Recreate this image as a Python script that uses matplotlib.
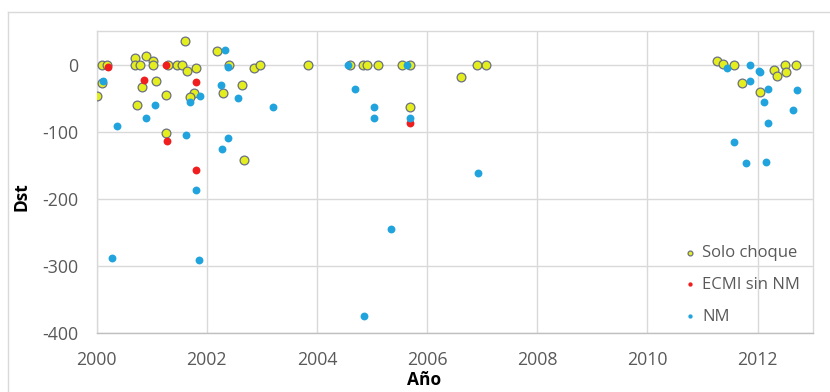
import numpy as np
import matplotlib
matplotlib.use("Agg")
import matplotlib.pyplot as plt
from matplotlib.lines import Line2D

# Solo choque (yellow)
choque_x = [2000.01, 2000.09, 2000.18, 2000.10, 2000.70, 2000.70, 2000.78, 2000.89,
            2001.02, 2001.02, 2000.83, 2001.08, 2000.74, 2001.30, 2001.45, 2001.55,
            2001.60, 2001.64, 2001.81, 2001.26, 2001.77, 2001.69, 2001.26, 2002.19,
            2002.40, 2002.30, 2002.64, 2002.68, 2002.86, 2002.96, 2003.84, 2004.60,
            2004.84, 2004.91, 2005.10, 2005.55, 2005.69, 2005.69, 2006.61, 2006.91,
            2007.07, 2011.27, 2011.37, 2011.57, 2011.71, 2012.30, 2012.35, 2012.50,
            2012.51, 2012.70, 2012.04]
choque_dst = [-47, 0, 0, -28, 9.5, 0, 0, 12,
              5.5, 0, -33, -25, -61, 0, 0, 0,
              34.5, -9.5, -4.5, -45, -42, -48, -102.5, 20.5,
              0, -42, -31, -142, -4.5, 0, 0, 0,
              0, 0, 0, 0, 0, -63.5, -18, 0,
              0, 5.5, 1.5, 0, -27, -8.5, -17, 0,
              -10.5, 0, -41.5]

# ECMI sin NM (red)
ecmi_x = [2000.21, 2000.85, 2001.25, 2001.81, 2001.28, 2001.81, 2005.69]
ecmi_dst = [-3, -23, 0, -26.5, -114, -157.5, -87]

# NM (blue)
nm_x = [2000.12, 2000.36, 2000.89, 2001.05, 2001.69, 2001.87, 2001.63, 2001.80,
        2002.33, 2002.38, 2002.26, 2002.56, 2002.38, 2002.28, 2003.21, 2000.27,
        2001.85, 2004.85, 2005.35, 2004.57, 2005.64, 2004.69, 2005.03, 2005.03,
        2005.69, 2006.93, 2011.45, 2011.87, 2011.87, 2012.03, 2012.05, 2012.18,
        2012.12, 2012.18, 2012.72, 2012.65, 2011.57, 2011.79, 2012.16]
nm_dst = [-25, -92, -79.5, -61, -56, -47, -104.5, -187,
          22, -3, -31, -50, -109, -126, -63.5, -288.5,
          -291.5, -374.5, -246, 0, -1, -37, -63.5, -79.5,
          -79.5, -162, -4.5, 0, -24.5, -9.5, -11, -37,
          -56, -87, -38.5, -68.5, -115, -146.5, -145]

plt.rcParams['font.family'] = ['Open Sans', 'DejaVu Sans']
plt.rcParams['axes.unicode_minus'] = False

fig = plt.figure(figsize=(8.3, 3.92), dpi=100)
W, H = 830, 392
ax = fig.add_axes([96.7 / W, 1 - 332.7 / H, (812.7 - 96.7) / W, (332.7 - 31) / H])

ax.scatter(choque_x, choque_dst, s=40, c='#E4EE1E', edgecolors='#6A7080',
           linewidths=0.9, label='Solo choque', zorder=3)
ax.scatter(ecmi_x, ecmi_dst, s=32, c='#F01E1E', linewidths=0,
           label='ECMI sin NM', zorder=4)
ax.scatter(nm_x, nm_dst, s=32, c='#21A4DE', linewidths=0,
           label='NM', zorder=5)

ax.set_xlim(2000, 2013)
ax.set_ylim(-400, 50)
ax.set_xticks(np.arange(2000, 2013, 2))
ax.set_yticks(np.arange(-400, 1, 100))
ax.grid(True, color='#D9D9D9', linewidth=1)
ax.set_axisbelow(True)
for sp in ax.spines.values():
    sp.set_color('#D9D9D9')
    sp.set_linewidth(1)
ax.spines['bottom'].set_color('#BFBFBF')
ax.tick_params(length=0, labelsize=12.8, labelcolor='#595959')
ax.tick_params(axis='x', pad=13)
ax.tick_params(axis='y', pad=13)

ax.set_xlabel('Año', fontsize=12.5, fontweight='bold', color='black')
ax.set_ylabel('Dst', fontsize=12.5, fontweight='bold', color='black')
ax.xaxis.set_label_coords((424 - 96.7) / 716, -(371 - 332.7) / 301.7)
ax.yaxis.set_label_coords(-(96.7 - 31) / 716, (332.7 - 197) / 301.7)

leg = ax.legend(loc='center left', bbox_to_anchor=(0.808, 0.159), frameon=False,
                fontsize=12, labelcolor='#595959', borderpad=0, handlelength=0.8,
                handletextpad=0.3, labelspacing=0.95, markerscale=0.55)

# chart area border
fig.add_artist(Line2D([8 / W, 1], [1 - 11.7 / H] * 2, color='#D9D9D9', lw=1))
fig.add_artist(Line2D([8 / W] * 2, [0, 1 - 11.7 / H], color='#D9D9D9', lw=1))

fig.savefig('out.png', dpi=100)
